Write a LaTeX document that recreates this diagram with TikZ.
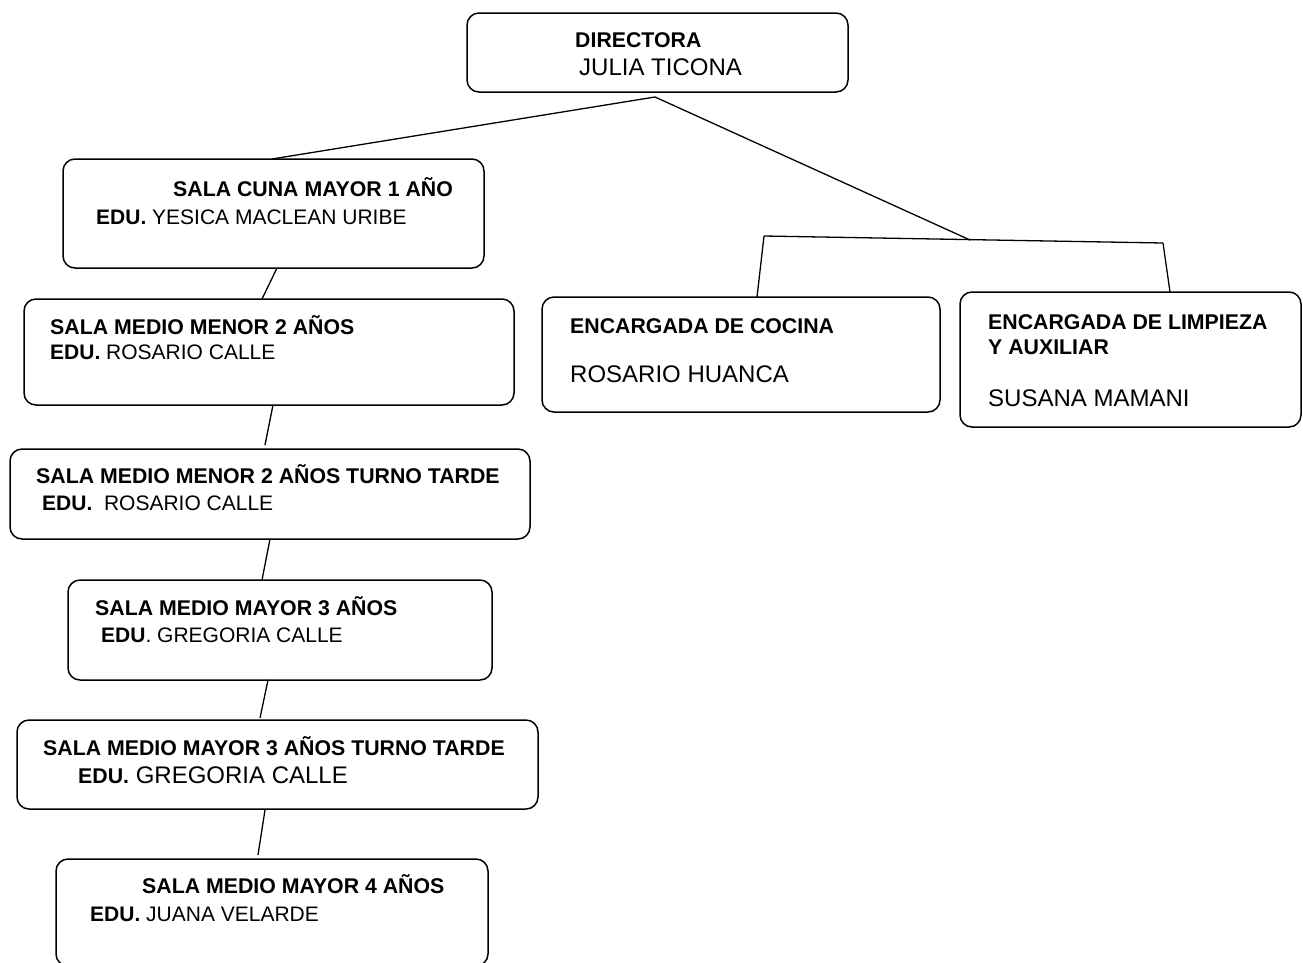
\documentclass[tikz,border=0pt]{standalone}
\usepackage{fontspec}
\setmainfont{Liberation Sans}
\begin{document}
\begin{tikzpicture}[x=1pt,y=-1pt,
  orgbox/.style={draw, line width=1.5pt, rounded corners=12pt, inner sep=0pt, outer sep=0pt, anchor=north west},
  link/.style={line width=1.3pt},
  titletxt/.style={font=\fontsize{21.3}{25}\selectfont\bfseries, anchor=base west, inner sep=0pt},
  persontxt/.style={font=\fontsize{21}{25}\selectfont, anchor=base west, inner sep=0pt},
  bigtxt/.style={font=\fontsize{24}{28}\selectfont, anchor=base west, inner sep=0pt}]
\useasboundingbox (0,0) rectangle (1303,962);

% boxes
\node[orgbox, minimum width=381pt, minimum height=79pt]  (dir)  at (467,13)  {};
\node[orgbox, minimum width=421pt, minimum height=109pt] (cuna) at (63,159)  {};
\node[orgbox, minimum width=490pt, minimum height=106pt] (mm2)  at (24,299)  {};
\node[orgbox, minimum width=520pt, minimum height=90pt]  (mm2t) at (10,449)  {};
\node[orgbox, minimum width=424pt, minimum height=100pt] (my3)  at (68,580)  {};
\node[orgbox, minimum width=521pt, minimum height=89pt]  (my3t) at (17,720)  {};
\node[orgbox, minimum width=432pt, minimum height=107pt] (my4)  at (56,859)  {};
\node[orgbox, minimum width=398pt, minimum height=115pt] (coc)  at (542,297) {};
\node[orgbox, minimum width=341pt, minimum height=135pt] (lim)  at (960,292) {};

% texts
\node[titletxt] (t1a) at (575,47) {DIRECTORA};
\node[bigtxt]   (t1b) at (579,75) {JULIA TICONA};

\node[titletxt]  (t2a) at (173,196) {SALA CUNA MAYOR 1 AÑO};
\node[persontxt] (t2b) at (96,224) {\textbf{EDU.} YESICA MACLEAN URIBE};

\node[titletxt]  (t3a) at (50,334) {SALA MEDIO MENOR 2 AÑOS};
\node[persontxt] (t3b) at (50,359) {\textbf{EDU.} ROSARIO CALLE};

\node[titletxt]  (t4a) at (36,483) {SALA MEDIO MENOR 2 AÑOS TURNO TARDE};
\node[persontxt] (t4b) at (42,510) {\textbf{EDU.}\ \ ROSARIO CALLE};

\node[titletxt]  (t5a) at (95,615) {SALA MEDIO MAYOR 3 AÑOS};
\node[persontxt] (t5b) at (101,642) {\textbf{EDU}. GREGORIA CALLE};

\node[titletxt]  (t6a) at (43,755) {SALA MEDIO MAYOR 3 AÑOS TURNO TARDE};
\node[bigtxt]    (t6b) at (78,783) {{\fontsize{21.3}{25}\selectfont\bfseries EDU.} GREGORIA CALLE};

\node[titletxt]  (t7a) at (142,893) {SALA MEDIO MAYOR 4 AÑOS};
\node[persontxt] (t7b) at (90,921) {\textbf{EDU.} JUANA VELARDE};

\node[titletxt] (t8a) at (570,333) {ENCARGADA DE COCINA};
\node[bigtxt]   (t8b) at (570,382) {ROSARIO HUANCA};

\node[titletxt] (t9a) at (988,329) {ENCARGADA DE LIMPIEZA};
\node[titletxt] (t9b) at (988,354) {Y AUXILIAR};
\node[bigtxt]   (t9c) at (988,406) {SUSANA MAMANI};

% connectors
\coordinate (top)  at (655,97);
\coordinate (barL) at (764,236);
\coordinate (barM) at (970,240);
\coordinate (barR) at (1163,243);

\draw[link] (top) -- (272,0 |- cuna.north);
\draw[link] (top) -- (barM);
\draw[link] (barL) -- (barR);
\draw[link] (barL) -- (757,0 |- coc.north);
\draw[link] (barR) -- (1170,0 |- lim.north);

\draw[link] (277,0 |- cuna.south) -- (262,0 |- mm2.north);
\draw[link] (273,0 |- mm2.south) -- (265,445);
\draw[link] (270,0 |- mm2t.south) -- (262,0 |- my3.north);
\draw[link] (268,0 |- my3.south) -- (260,718);
\draw[link] (265,810) -- (258,855);
\end{tikzpicture}
\end{document}
